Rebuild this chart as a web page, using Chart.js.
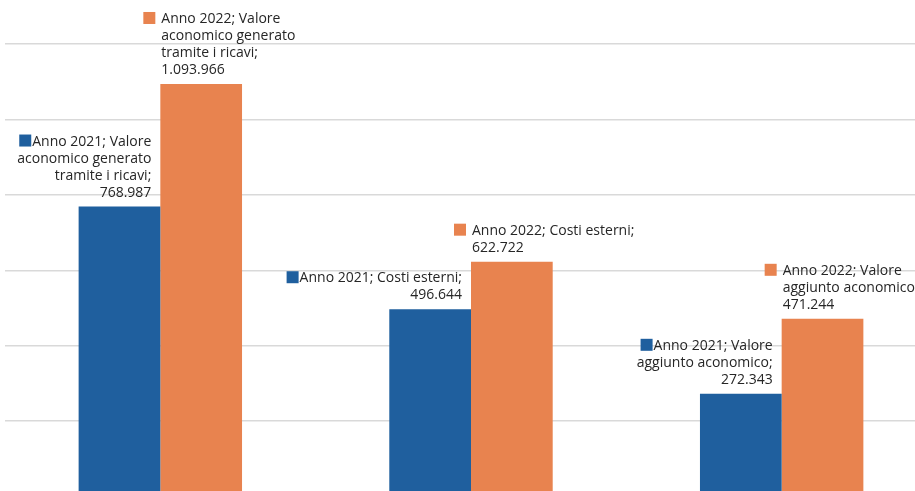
<!DOCTYPE html>
<html>
<head>
<meta charset="utf-8">
<script src="https://cdn.jsdelivr.net/npm/chart.js@4/dist/chart.umd.min.js"></script>
<style>
  html, body { margin: 0; padding: 0; background: #ffffff; overflow: hidden; }
  #wrap { position: relative; width: 915px; height: 491px; overflow: hidden; background: #fff; }
  #box { position: absolute; left: 0; top: 0; width: 945px; height: 500px; }
</style>
</head>
<body>
<div id="wrap"><div id="box"><canvas id="c"></canvas></div></div>
<script>
// ---- data ----
const categories = [
  ["Valore", "aconomico generato", "tramite i ricavi"],
  ["Costi esterni"],
  ["Valore", "aggiunto aconomico"]
];
const seriesNames = ["Anno 2021", "Anno 2022"];
const values2021 = [768987, 496644, 272343];
const values2022 = [1093966, 622722, 471244];
const yTicks = [0, 200000, 400000, 600000, 800000, 1000000, 1200000];

const colors = ["#1f5f9e", "#e8834f"];
const FONT = '14px "Open Sans"';
const LINE_H = 17;

function fmt(v) {
  return String(Math.round(v)).replace(/\B(?=(\d{3})+(?!\d))/g, ".");
}
function labelLines(series, cat, v) {
  const lines = [];
  cat.forEach((part, i) => {
    let s = (i === 0 ? series + "; " : "") + part;
    if (i === cat.length - 1) s += ";";
    lines.push(s);
  });
  lines.push(fmt(v));
  return lines;
}

const labelPlugin = {
  id: "barLabels",
  afterDatasetsDraw(chart) {
    const ctx = chart.ctx;
    ctx.save();
    ctx.font = FONT;
    ctx.textBaseline = "middle";
    const txt = "#262626";
    ctx.fillStyle = txt;
    chart.data.datasets.forEach((ds, di) => {
      const meta = chart.getDatasetMeta(di);
      meta.data.forEach((bar, i) => {
        const lines = labelLines(ds.label, categories[i], ds.data[i]);
        const left = bar.x - bar.width / 2;
        const right = bar.x + bar.width / 2;
        const lastY = bar.y - 14;
        const firstY = lastY - (lines.length - 1) * LINE_H;
        const sq = 12;
        if (di === 0) {
          const ax = right - 9;
          ctx.textAlign = "right";
          lines.forEach((t, k) => ctx.fillText(t, ax, firstY + k * LINE_H));
          const w0 = ctx.measureText(lines[0]).width;
          ctx.fillStyle = colors[0];
          ctx.fillRect(ax - w0 - sq - 1, firstY - sq / 2 - 1, sq, sq);
          ctx.fillStyle = txt;
        } else {
          const ax = left + 1;
          ctx.textAlign = "left";
          lines.forEach((t, k) => ctx.fillText(t, ax, firstY + k * LINE_H));
          ctx.fillStyle = colors[1];
          ctx.fillRect(ax - sq - 6, firstY - sq / 2 - 1, sq, sq);
          ctx.fillStyle = txt;
        }
      });
    });
    ctx.restore();
  }
};

new Chart(document.getElementById("c"), {
  type: "bar",
  data: {
    labels: categories.map(c => c.join(" ")),
    datasets: [
      { label: seriesNames[0], data: values2021, backgroundColor: colors[0] },
      { label: seriesNames[1], data: values2022, backgroundColor: colors[1] }
    ]
  },
  options: {
    responsive: true,
    maintainAspectRatio: false,
    animation: false,
    events: [],
    layout: { padding: { left: 5, right: 8, top: 44, bottom: 3.5 } },
    plugins: { legend: { display: false }, tooltip: { enabled: false } },
    datasets: { bar: { categoryPercentage: 0.526, barPercentage: 1.0 } },
    scales: {
      x: { display: false },
      y: {
        min: yTicks[0],
        max: yTicks[yTicks.length - 1],
        afterBuildTicks: (s) => { s.ticks = yTicks.map(v => ({ value: v })); },
        ticks: { display: false },
        border: { display: false },
        grid: { color: "#d9d9d9", lineWidth: 1.5, drawTicks: false }
      }
    }
  },
  plugins: [labelPlugin]
});
</script>
</body>
</html>
